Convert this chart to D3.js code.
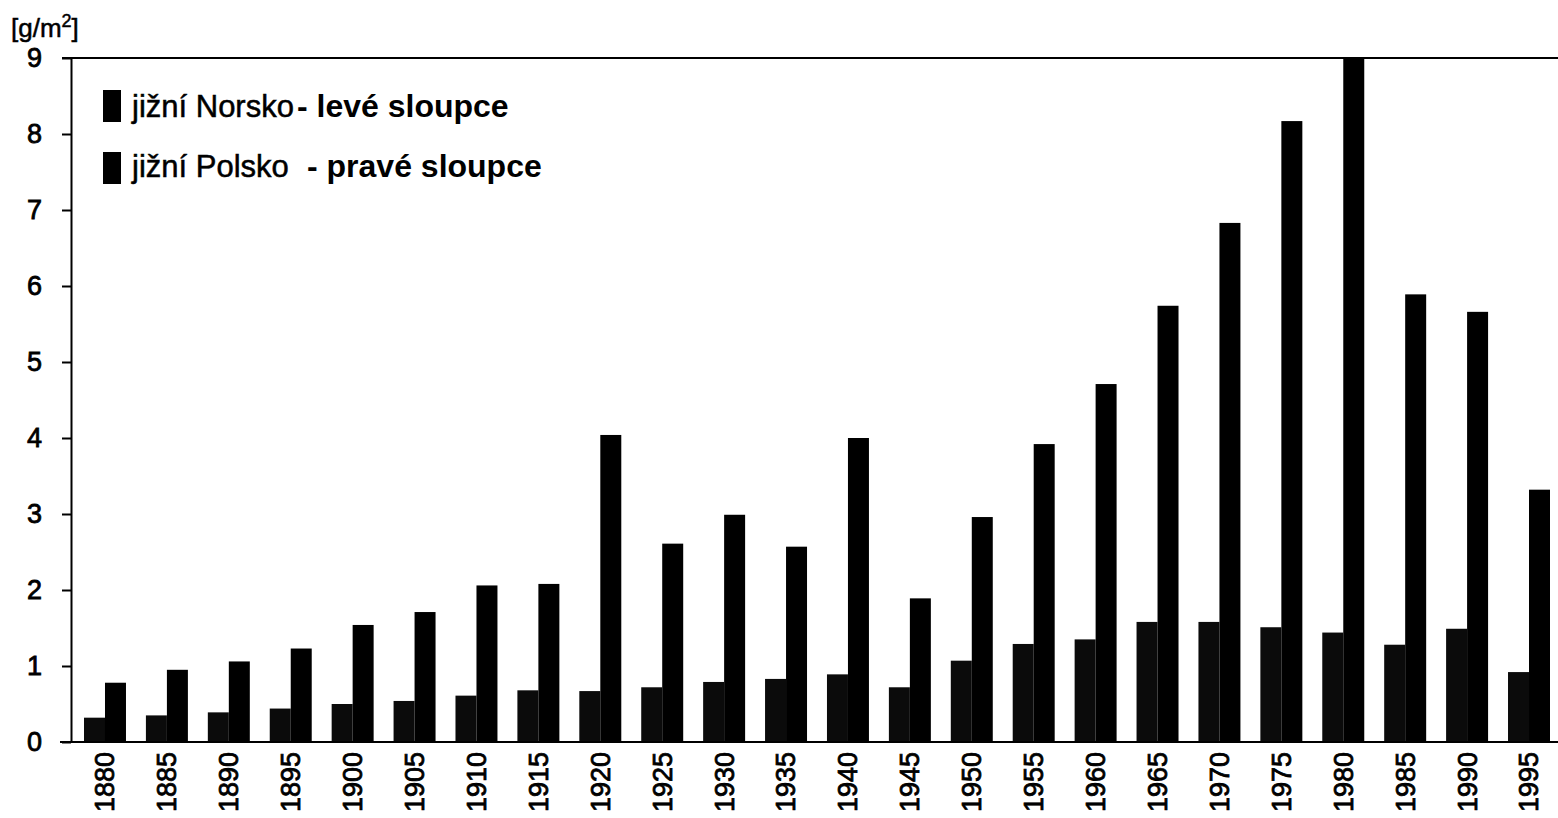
<!DOCTYPE html>
<html>
<head>
<meta charset="utf-8">
<script src="https://cdn.jsdelivr.net/npm/d3@7"></script>
<style>
  html, body { margin: 0; padding: 0; background: #fff; }
  svg { display: block; }
  text { font-family: "Liberation Sans", Arial, sans-serif; fill: #000; }
</style>
</head>
<body>
<svg id="chart" width="1558" height="818"></svg>
<script>
const years = [1880,1885,1890,1895,1900,1905,1910,1915,1920,1925,1930,1935,1940,1945,1950,1955,1960,1965,1970,1975,1980,1985,1990,1995];
const norway = [0.32,0.35,0.39,0.44,0.50,0.54,0.61,0.68,0.67,0.72,0.79,0.83,0.89,0.72,1.07,1.29,1.35,1.58,1.58,1.51,1.44,1.28,1.49,0.92];
const poland = [0.78,0.95,1.06,1.23,1.54,1.71,2.06,2.08,4.04,2.61,2.99,2.57,4.00,1.89,2.96,3.92,4.71,5.74,6.83,8.17,9.00,5.89,5.66,3.32];
const yTicks = [0,1,2,3,4,5,6,7,8,9];
const seriesKeys = ["norway","poland"];
const legendItems = [
  {name: "jižní Norsko", desc: "- levé sloupce"},
  {name: "jižní Polsko", desc: "- pravé sloupce"}
];
const unitLabel = "[g/m";

const svg = d3.select("#chart");
svg.append("rect").attr("width",1558).attr("height",818).attr("fill","#fff");

const x = d3.scaleBand().domain(years).range([71, 1563]).paddingInner(0.322).paddingOuter(0.21);
const xs = d3.scaleBand().domain(seriesKeys).range([0, x.bandwidth()]).padding(0);
const y = d3.scaleLinear().domain([0, 9]).range([742, 58]);

const rows = years.map((yr, i) => ({year: yr, norway: norway[i], poland: poland[i]}));

// bars
const g = svg.append("g");
const grp = g.selectAll("g.grp").data(rows).join("g")
  .attr("class","grp")
  .attr("transform", d => `translate(${x(d.year)},0)`);
grp.selectAll("rect").data(d => seriesKeys.map(k => ({k, v: d[k]}))).join("rect")
  .attr("x", d => xs(d.k))
  .attr("width", xs.bandwidth())
  .attr("y", d => y(d.v))
  .attr("height", d => y(0) - y(d.v))
  .attr("fill", d => d.k === "norway" ? "#0b0b0b" : "#000");

// top frame line and x baseline
svg.append("line").attr("x1", 62).attr("x2", 1558).attr("y1", y(9)).attr("y2", y(9))
  .attr("stroke","#000").attr("stroke-width",2);
svg.append("line").attr("x1", 60).attr("x2", 1558).attr("y1", y(0)).attr("y2", y(0))
  .attr("stroke","#000").attr("stroke-width",2);

const numStyle = sel => sel
  .style("font-family","'Liberation Sans', Arial, sans-serif")
  .style("font-size","27px").style("font-weight","normal")
  .attr("fill","#000").attr("stroke","#000").attr("stroke-width",0.8);

// y axis
const yAxis = svg.append("g").attr("transform","translate(71,0)")
  .call(d3.axisLeft(y).tickValues(yTicks).tickFormat(d3.format("d")).tickSize(9).tickSizeOuter(0).tickPadding(20));
yAxis.select(".domain").attr("stroke","#000").attr("stroke-width",2);
yAxis.selectAll(".tick line").attr("stroke","#000").attr("stroke-width",2);
numStyle(yAxis.selectAll(".tick text"));

// x axis labels
const xAxis = svg.append("g").attr("transform", `translate(0,${y(0)})`)
  .call(d3.axisBottom(x).tickSize(0).tickSizeOuter(0));
xAxis.select(".domain").remove();
numStyle(xAxis.selectAll(".tick text")
  .attr("transform","rotate(-90)")
  .attr("x", -10).attr("y", 0).attr("dy","0.35em")
  .style("text-anchor","end"));

// unit label
const ut = svg.append("text").attr("x", 11).attr("y", 37)
  .style("font-size","26px").attr("stroke","#000").attr("stroke-width",0.5);
ut.append("tspan").text(unitLabel);
ut.append("tspan").attr("dy", -10).style("font-size","18px").text("2");
ut.append("tspan").attr("dy", 10).text("]");

// legend
const legY = [90, 152];
const legTextY = [117, 177];
const descX = [297, 307];
legendItems.forEach((it, i) => {
  svg.append("rect").attr("x", 103).attr("y", legY[i]).attr("width", 18).attr("height", 32).attr("fill","#000");
  svg.append("text").attr("x", 132).attr("y", legTextY[i]).style("font-size","31px")
    .attr("stroke","#000").attr("stroke-width",0.5).text(it.name);
  svg.append("text").attr("x", descX[i]).attr("y", legTextY[i]).style("font-size","32px").style("font-weight","bold").text(it.desc);
});
</script>
</body>
</html>
